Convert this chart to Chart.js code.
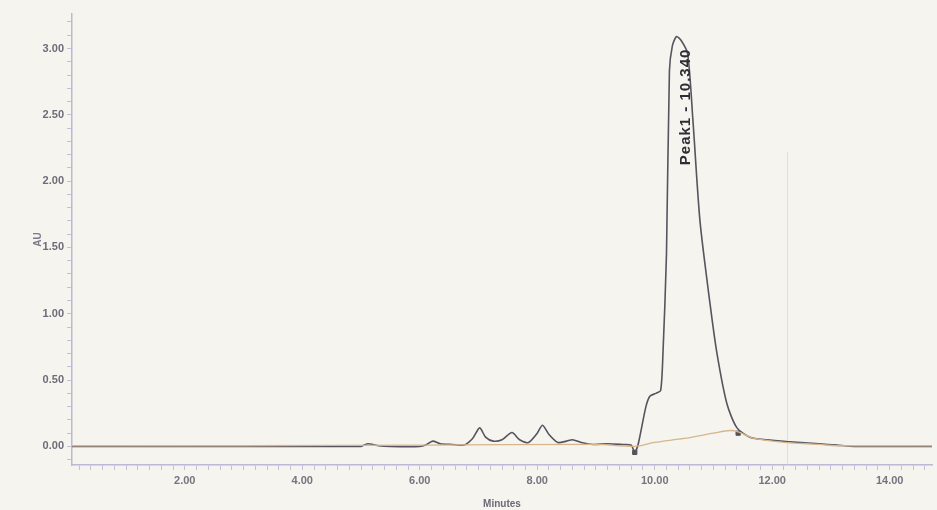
<!DOCTYPE html>
<html>
<head>
<meta charset="utf-8">
<script src="https://cdn.jsdelivr.net/npm/chart.js@4.4.1/dist/chart.umd.min.js"></script>
<style>
  html, body { margin: 0; padding: 0; background: #f5f4ef; }
  #wrap { width: 937px; height: 510px; position: relative; }
</style>
</head>
<body>
<div id="wrap"><canvas id="chrom"></canvas></div>
<script>
// ── data ───────────────────────────────────────────
const sampleTime = [0.08, 1.0, 2.0, 3.0, 4.0, 5.0, 5.05, 5.12, 5.2, 5.3, 5.5, 6.0, 6.1, 6.22, 6.35, 6.55, 6.75, 6.9, 7.02, 7.12, 7.25, 7.4, 7.57, 7.7, 7.85, 8.0, 8.09, 8.2, 8.35, 8.5, 8.6, 8.75, 8.95, 9.2, 9.45, 9.6, 9.66, 9.72, 9.85, 9.92, 10.02, 10.1, 10.14, 10.2, 10.25, 10.3, 10.37, 10.45, 10.56, 10.65, 10.77, 10.94, 11.06, 11.23, 11.4, 11.62, 11.9, 12.3, 12.8, 13.1, 13.4, 14.8];
const sampleAU   = [0.0, 0.0, 0.0, 0.0, 0.0, 0.0, 0.01, 0.02, 0.015, 0.005, 0.0, 0.0, 0.01, 0.04, 0.02, 0.015, 0.01, 0.06, 0.14, 0.07, 0.04, 0.05, 0.105, 0.05, 0.03, 0.10, 0.16, 0.09, 0.03, 0.04, 0.05, 0.03, 0.015, 0.02, 0.015, 0.01, -0.045, 0.02, 0.30, 0.38, 0.40, 0.42, 0.70, 1.45, 2.83, 3.02, 3.09, 3.06, 2.96, 2.46, 1.70, 1.08, 0.70, 0.32, 0.14, 0.07, 0.05, 0.035, 0.02, 0.01, 0.0, 0.0];

const baseTime = [0.08, 3.0, 6.0, 9.0, 9.66, 10.0, 10.5, 11.0, 11.28, 11.42, 11.7, 12.2, 12.8, 13.1, 14.8];
const baseAU   = [0.005, 0.005, 0.01, 0.015, 0.0, 0.03, 0.06, 0.10, 0.12, 0.11, 0.06, 0.03, 0.015, 0.005, 0.005];

const markTime = [9.66, 11.42];
const markAU   = [-0.045, 0.10];

const peakName = 'Peak1 - 10.340';
const peakTime = 10.34;
const peakLabelFrom = 2.12;

const eventTime = [12.26];

const xTickLabels = ['2.00', '4.00', '6.00', '8.00', '10.00', '12.00', '14.00'];
const yTickLabels = ['0.00', '0.50', '1.00', '1.50', '2.00', '2.50', '3.00'];

const toPts = (xs, ys) => xs.map((x, i) => ({ x, y: ys[i] }));

const inkFont = "'Liberation Sans Narrow', 'Liberation Sans', Arial, sans-serif";

// faint event marker lines + rotated peak label
const annotate = {
  id: 'annotate',
  beforeDatasetsDraw(chart) {
    const { ctx, scales: { x, y }, chartArea } = chart;
    ctx.save();
    ctx.strokeStyle = 'rgba(200,208,222,0.6)';
    ctx.lineWidth = 1;
    eventTime.forEach(t => {
      const px = Math.round(x.getPixelForValue(t)) + 0.5;
      ctx.beginPath();
      ctx.moveTo(px, y.getPixelForValue(2.22));
      ctx.lineTo(px, chartArea.bottom);
      ctx.stroke();
    });
    ctx.restore();
  },
  afterDatasetsDraw(chart) {
    const { ctx, scales: { x, y } } = chart;
    ctx.save();
    ctx.translate(x.getPixelForValue(peakTime) + 11, y.getPixelForValue(peakLabelFrom));
    ctx.rotate(-Math.PI / 2);
    ctx.font = "bold 15px 'Liberation Sans', Arial, sans-serif";
    if ('letterSpacing' in ctx) ctx.letterSpacing = '1px';
    ctx.fillStyle = '#2f2d33';
    ctx.textAlign = 'left';
    ctx.textBaseline = 'middle';
    ctx.fillText(peakName, 0, 0);
    ctx.restore();
  }
};

const minorTicks = (lo, hi, step) => {
  const out = [];
  for (let v = lo; v <= hi + 1e-9; v += step) out.push({ value: +v.toFixed(2) });
  return out;
};

new Chart(document.getElementById('chrom'), {
  type: 'scatter',
  data: {
    datasets: [
      { label: 'blank', data: toPts(baseTime, baseAU), showLine: true, borderColor: '#d6b68c', borderWidth: 1.3, pointRadius: 0, tension: 0.3 },
      { label: 'sample', data: toPts(sampleTime, sampleAU), showLine: true, borderColor: '#57535f', borderWidth: 1.6, pointRadius: 0, tension: 0.25 },
      { label: 'marks', data: toPts(markTime, markAU), showLine: false, pointStyle: 'rect', pointRadius: 3, backgroundColor: '#55525c', borderColor: '#55525c' }
    ]
  },
  options: {
    responsive: true,
    maintainAspectRatio: false,
    animation: false,
    layout: { padding: { top: 14, right: 0, left: 0, bottom: 0 } },
    plugins: { legend: { display: false }, tooltip: { enabled: false } },
    scales: {
      x: {
        type: 'linear', min: 0.08, max: 14.72,
        afterBuildTicks: s => { s.ticks = minorTicks(0.2, 14.6, 0.2); },
        afterFit: s => { s.height = 45; },
        border: { display: true, color: '#bdb8d6', width: 1.5 },
        grid: { drawOnChartArea: false, tickLength: 5, color: '#c4bfd8' },
        ticks: {
          autoSkip: false, maxRotation: 0, padding: 4,
          color: '#77737f', font: { family: inkFont, size: 11, weight: 'bold' },
          callback: v => { const i = Math.round(v / 2) - 1; return Math.abs(v / 2 - Math.round(v / 2)) < 1e-6 && xTickLabels[i] ? xTickLabels[i] : ''; }
        },
        title: { display: true, text: 'Minutes', color: '#6d6977', font: { family: inkFont, size: 10, weight: 'bold' }, padding: { top: 2, bottom: 0 } }
      },
      y: {
        min: -0.14, max: 3.26,
        afterBuildTicks: s => { s.ticks = minorTicks(-0.1, 3.2, 0.1); },
        afterFit: s => { s.width = 72; },
        border: { display: true, color: '#bdb8d6', width: 1.5 },
        grid: { drawOnChartArea: false, tickLength: 5, color: '#c4bfd8' },
        ticks: {
          autoSkip: false, padding: 3,
          color: '#6f6b78', font: { family: inkFont, size: 11, weight: 'bold' },
          callback: v => { const i = Math.round(v * 2); return Math.abs(v * 2 - i) < 1e-6 && yTickLabels[i] ? yTickLabels[i] : ''; }
        },
        title: { display: true, text: 'AU', color: '#7d7988', font: { family: inkFont, size: 10, weight: 'bold' }, padding: { top: 32, bottom: 0 } }
      }
    }
  },
  plugins: [annotate]
});
</script>
</body>
</html>
